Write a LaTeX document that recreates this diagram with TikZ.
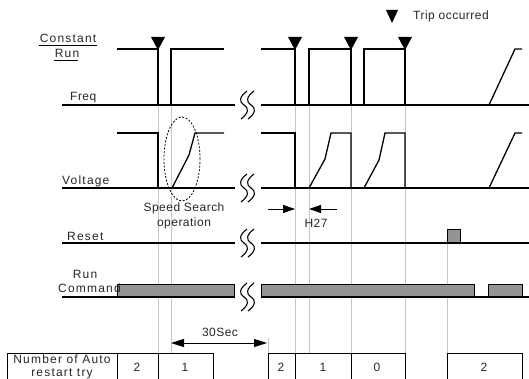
\documentclass[tikz,border=0pt]{standalone}
\usepackage{fontspec}
\setmainfont{Liberation Sans}
\newfontfamily\spacedfont[LetterSpace=10]{Liberation Sans}
\newfontfamily\lightspaced[LetterSpace=4]{Liberation Sans}
\usetikzlibrary{arrows.meta}
\begin{document}
\begin{tikzpicture}[x=1pt,y=-1pt,
  sig/.style={line width=1.3pt, black, line join=miter},
  base/.style={line width=2pt, black},
  guide/.style={line width=0.9pt, black!22},
  bar/.style={fill=black!42, draw=black, line width=1pt},
  lbl/.style={text=black!85, font=\lightspaced\fontsize{12}{14}\selectfont, inner sep=0pt},
  slbl/.style={text=black!85, font=\spacedfont\fontsize{12}{14}\selectfont, inner sep=0pt},
  cell/.style={draw=black, line width=1pt},
  tip/.style={-{Triangle[length=12pt,width=8pt]}, line width=1pt},
  brk/.pic={\draw[line width=1.1pt] (3,-14) .. controls (-5,-8) and (-5,-3) .. (0,0) .. controls (5,3) and (5,8) .. (-3,14);}
]
\useasboundingbox (0,0) rectangle (529,379);
\clip (0,0) rectangle (529,379);

% guide lines
\foreach \x in {158,171,295,309,351,405} \draw[guide] (\x,105) -- (\x,353);
\draw[guide] (447,229) -- (447,353);
\draw[guide] (268,338) -- (268,353);

% bars
\draw[bar] (447,242) rectangle (460,229);
\draw[bar] (117,297) rectangle (234,284);
\draw[bar] (261,297) rectangle (474,284);
\draw[bar] (488,297) rectangle (522,284);

% baselines with breaks
\foreach \y in {105,188,243,297} {
  \draw[base] (62,\y) -- (235,\y);
  \draw[base] (261,\y) -- (529,\y);
  \pic at (244,\y) {brk};
  \pic at (251,\y) {brk};
}

% Freq trace
\draw[sig] (117,49) -- (158,49) -- (158,105);
\draw[sig] (171,105) -- (171,49) -- (224,49);
\draw[sig] (261,49) -- (295,49) -- (295,105);
\draw[sig] (309,105) -- (309,49) -- (351,49) -- (351,105);
\draw[sig] (364,105) -- (364,49) -- (405,49) -- (405,105);
\draw[sig] (489,105) -- (515,49) -- (522,49);

% Voltage trace
\draw[sig] (117,133) -- (158,133) -- (158,188);
\draw[sig] (172,188) -- (189,155) -- (195,133) -- (224,133);
\draw[sig] (261,133) -- (295,133) -- (295,188);
\draw[sig] (309,188) -- (325,159) -- (331,133) -- (351,133) -- (351,188);
\draw[sig] (364,188) -- (379,160) -- (385,133) -- (405,133) -- (405,188);
\draw[sig] (489,188) -- (515,133) -- (522,133);

% speed search ellipse
\draw[dash pattern=on 2pt off 1.6pt, line width=0.8pt] (182,159) ellipse [x radius=18pt, y radius=42pt];

% trip markers
\foreach \x in {158,295,351,405} \fill (\x-7,37) -- (\x+7,37) -- (\x,50) -- cycle;
\fill (386,10) -- (398,10) -- (392,23) -- cycle;
\node[lbl, anchor=west] (trip) at (413,16) {Trip occurred};

% labels
\node[slbl] (const) at (68,38) {Constant};
\node[slbl] (run) at (67,53) {Run};
\draw[line width=0.8pt] (const.south west) ++(-1,3) -- ++(58,0);
\draw[line width=0.8pt] (run.south west) ++(-1,3) -- ++(24,0);
\node[lbl, anchor=west] (freq) at (70,98) {Freq};
\node[slbl, anchor=west] (volt) at (62,181) {Voltage};
\node[lbl] (ss1) at (184,208) {Speed Search};
\node[lbl] (ss2) at (184,223) {operation};
\node[slbl, anchor=west] (reset) at (67,236) {Reset};
\node[slbl] (runc) at (85,274) {Run};
\node[slbl, anchor=west] (cmd) at (58,288) {Command};

% H27 arrows
\coordinate (h1) at (268,209); \coordinate (h2) at (295,209);
\coordinate (h3) at (337,209); \coordinate (h4) at (309,209);
\draw[tip] (h1) -- (h2);
\draw[tip] (h3) -- (h4);
\node[lbl] (h27) at (316,223) {H27};

% 30 sec arrow
\coordinate (s1) at (171,343); \coordinate (s2) at (267,343);
\draw[{Triangle[length=13pt,width=8pt]}-{Triangle[length=13pt,width=8pt]}, line width=1pt] (s1) -- (s2);
\node[lbl] (sec) at (220,332) {30Sec};

% table
\draw[cell] (7,353) rectangle (117,395);
\draw[cell] (117,353) rectangle (158,395);
\draw[cell] (158,353) rectangle (213,395);
\draw[cell] (268,353) rectangle (295,395);
\draw[cell] (295,353) rectangle (351,395);
\draw[cell] (351,353) rectangle (405,395);
\draw[cell] (447,353) rectangle (522,395);
\node[slbl] (n1) at (62,359.5) {Number of Auto};
\node[slbl] (n2) at (62,373.5) {restart try};
\node[lbl] (c1) at (137,367) {2};
\node[lbl] (c2) at (185,367) {1};
\node[lbl] (c3) at (281,367) {2};
\node[lbl] (c4) at (323,367) {1};
\node[lbl] (c5) at (377,367) {0};
\node[lbl] (c6) at (484,367) {2};
\end{tikzpicture}
\end{document}
